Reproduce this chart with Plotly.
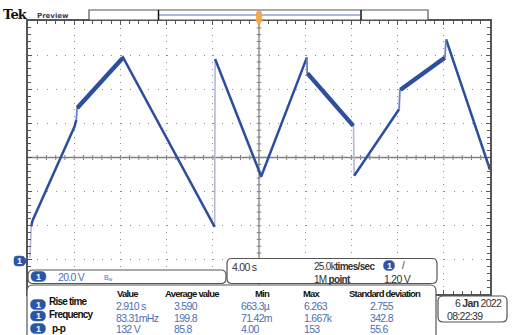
import plotly.graph_objects as go

# ---------------- data (time in s, voltage in V) ----------------
ramp_t = [0.28, 0.39, 4.02, 4.18, None, 4.24, 8.23, 16.16, None, 16.20, 20.19, 24.15,
          None, 24.17, 28.18, None, 28.24, 32.13, None, 32.22, 36.11, None, 36.20, 40.0]
ramp_v = [19.5, 23.0, 78.0, 82.0, None, 88.5, 118.7, 19.3, None, 117.7, 48.9, 118.7,
          None, 109.5, 78.5, None, 49.3, 88.3, None, 99.6, 118.7, None, 129.2, 52.8]
noisy_t = [4.28, 8.20, None, 24.20, 28.15, None, 32.25, 36.08]
noisy_v = [89.2, 118.3, None, 109.3, 78.7, None, 99.7, 118.5]
step_t = [4.18, 4.24, None, 24.15, 24.17, None, 32.13, 32.20, None, 36.11, 36.18]
step_v = [82.0, 88.5, None, 118.7, 109.5, None, 88.3, 99.6, None, 118.7, 129.2]
edge_t = [0.17, 0.28, None, 16.16, 16.20, None, 28.18, 28.24]
edge_v = [1.4, 19.5, None, 19.3, 117.7, None, 78.5, 49.3]

meas_headers = ["Value", "Average value", "Min", "Max", "Standard deviation"]
meas_names = ["Rise time", "Frequency", "p-p"]
meas_values = [
    ["2.910 s", "3.590", "663.3µ", "6.263", "2.755"],
    ["83.31mHz", "199.8", "71.42m", "1.667k", "342.8"],
    ["132 V", "85.8", "4.00", "153", "55.6"],
]
volts_div = "20.0 V"
time_div = "4.00 s"
sample_rate = "25.0k"
record_len = "1M"
trig_level = "1.20 V"
date_txt = "6 <b>Jan</b> 2022"
time_txt = "08:22:39"

# ---------------- geometry helpers ----------------
W, H = 515, 335
L, R, T, B = 28, 25, 21, 41
PW, PH = W - L - R, H - T - B
FONT = "Liberation Sans, Arial, sans-serif"


def X(px):
    return (px - L) / PW


def Y(py):
    return (H - B - py) / PH


def rrect_path(x0, y0, x1, y1, r):
    pts = [("M", [(x0 + r, y0)]), ("L", [(x1 - r, y0)]), ("Q", [(x1, y0), (x1, y0 + r)]),
           ("L", [(x1, y1 - r)]), ("Q", [(x1, y1), (x1 - r, y1)]), ("L", [(x0 + r, y1)]),
           ("Q", [(x0, y1), (x0, y1 - r)]), ("L", [(x0, y0 + r)]), ("Q", [(x0, y0), (x0 + r, y0)])]
    s = ""
    for cmd, ps in pts:
        s += cmd + " " + " ".join(f"{X(a):.5f},{Y(b):.5f}" for a, b in ps) + " "
    return s + "Z"


shapes = []
annots = []


def box(x0, y0, x1, y1, r=5, line="#555555", fill="white", lw=1.2):
    shapes.append(dict(type="path", path=rrect_path(x0, y0, x1, y1, r), xref="paper", yref="paper",
                       line=dict(color=line, width=lw), fillcolor=fill, layer="above"))


def txt(px, py, s, size=10, color="#4b70b8", anchor="left", font=FONT, ls=-0.7):
    if ls:
        s = f"<span style='letter-spacing:{ls}px'>{s}</span>"
    annots.append(dict(x=X(px), y=Y(py), xref="paper", yref="paper", text=s, showarrow=False,
                       xanchor=anchor, yanchor="middle", borderpad=0,
                       font=dict(size=size, color=color, family=font)))


BADGE = "#2b55a6"


def badge(cx, cy, w=15, h=11, label="1", size=9):
    box(cx - w / 2, cy - h / 2, cx + w / 2, cy + h / 2, r=h / 2, line=BADGE, fill=BADGE, lw=0.5)
    txt(cx, cy, "<b>" + label + "</b>", size=size, color="white", anchor="center", ls=0)


fig = go.Figure()

# waveform
fig.add_trace(go.Scatter(x=edge_t, y=edge_v, mode="lines", line=dict(color="#b3b7d8", width=1.6),
                         hoverinfo="skip", showlegend=False))
fig.add_trace(go.Scatter(x=ramp_t, y=ramp_v, mode="lines", line=dict(color="#2d4e9e", width=2.5),
                         hoverinfo="skip", showlegend=False))
fig.add_trace(go.Scatter(x=noisy_t, y=noisy_v, mode="lines", line=dict(color="#2d4e9e", width=4.4),
                         hoverinfo="skip", showlegend=False))
fig.add_trace(go.Scatter(x=step_t, y=step_v, mode="lines", line=dict(color="#6a83c6", width=1.8),
                         hoverinfo="skip", showlegend=False))

# center cross with minor ticks
cross = "#808080"
shapes.append(dict(type="line", xref="x", yref="y", x0=0, x1=40, y0=60, y1=60,
                   line=dict(color=cross, width=1.3), layer="below"))
shapes.append(dict(type="line", xref="x", yref="y", x0=20, x1=20, y0=-20, y1=140,
                   line=dict(color=cross, width=1.3), layer="below"))
for i in range(1, 50):
    t = i * 0.8
    shapes.append(dict(type="line", xref="x", yref="y", x0=t, x1=t, y0=58.5, y1=61.5,
                       line=dict(color=cross, width=1), layer="below"))
for i in range(1, 40):
    v = -20 + i * 4
    shapes.append(dict(type="line", xref="x", yref="y", x0=19.8, x1=20.2, y0=v, y1=v,
                       line=dict(color=cross, width=1), layer="below"))

# top bar
shapes.append(dict(type="rect", xref="paper", yref="paper", x0=X(89), x1=X(428), y0=Y(20), y1=Y(10),
                   line=dict(color="#555555", width=1.2), fillcolor="white"))
shapes.append(dict(type="line", xref="paper", yref="paper", x0=X(159), x1=X(360), y0=Y(15), y1=Y(15),
                   line=dict(color="#a9b7de", width=2)))
for xx in (158.5, 361):
    shapes.append(dict(type="line", xref="paper", yref="paper", x0=X(xx), x1=X(xx), y0=Y(10), y1=Y(20),
                       line=dict(color="#111111", width=1.5)))
shapes.append(dict(type="path", xref="paper", yref="paper", path=rrect_path(256.5, 11, 261.5, 21, 2.5),
                   line=dict(color="#f0a040", width=0.8), fillcolor="#f5a845"))
shapes.append(dict(type="path", xref="paper", yref="paper",
                   path=f"M {X(255.5)},{Y(20)} L {X(262.5)},{Y(20)} L {X(259)},{Y(25)} Z",
                   line=dict(color="#f0a040", width=0.5), fillcolor="#f5a845"))

# ground marker
shapes.append(dict(type="path", xref="paper", yref="paper",
                   path=rrect_path(14, 256, 24, 266, 3), line=dict(color=BADGE, width=0.5), fillcolor=BADGE))
shapes.append(dict(type="path", xref="paper", yref="paper",
                   path=f"M {X(23)},{Y(256)} L {X(27.5)},{Y(261)} L {X(23)},{Y(266)} Z",
                   line=dict(color=BADGE, width=0.5), fillcolor=BADGE))
txt(19.5, 261, "<b>1</b>", size=9, color="white", anchor="center", ls=0)

# header text
txt(2, 14, "<b>Tek</b>", size=13, color="#111111", font="DejaVu Serif, Liberation Serif, serif", ls=-0.8)
txt(36, 15.5, "<b>Preview</b>", size=7, color="#3a4060", font="DejaVu Sans, sans-serif", ls=0)

# channel box
box(28, 270, 226, 283.5)
badge(38.5, 276.5, w=15, h=10)
txt(57, 277, volts_div, size=10.5)
txt(103, 277.5, "B<sub>w</sub>", size=7, color="#4b70b8", ls=0)

# horizontal / trigger box
box(227, 258.5, 437, 283.5)
txt(231, 266.5, time_div, size=10.5, color="#333333")
txt(313, 266.5, sample_rate + "<b>times/sec</b>", size=10, color="#333333")
badge(389, 265.5, w=11, h=10)
txt(401, 265.5, "/", size=10, color="#333333", ls=0)
txt(313, 279, record_len + " <b>point</b>", size=10, color="#333333")
txt(412, 279, trig_level, size=10.5, color="#333333", anchor="right")

# measurement box
box(27, 285, 436, 345, r=6)
hdr_x = [127.5, 191.5, 262, 312, 385]
val_x = [115, 173, 240, 303, 369]
for hx, h in zip(hdr_x, meas_headers):
    txt(hx, 293.5, "<b>" + h + "</b>", size=9.5, color="#111111", anchor="center", ls=-0.8)
row_lbl_y = [301.5, 314, 328]
row_val_y = [305.5, 317.5, 329]
badge_y = [304.5, 316, 328.5]
for i, name in enumerate(meas_names):
    badge(38, badge_y[i], w=15, h=10)
    txt(48 if i < 2 else 51, row_lbl_y[i], "<b>" + name + "</b>", size=10, color="#111111", ls=-0.8)
    for vx, v in zip(val_x, meas_values[i]):
        txt(vx, row_val_y[i], v, size=10.5)

# date box
box(438, 296, 507, 322, r=5)
txt(503, 303, date_txt, size=10.5, color="#333333", anchor="right")
txt(446, 315.5, time_txt, size=10.5, color="#333333")

grid = "#8e8e8e"
fig.update_layout(
    width=W, height=H, margin=dict(l=L, r=R, t=T, b=B),
    paper_bgcolor="white", plot_bgcolor="white",
    showlegend=False, shapes=shapes, annotations=annots,
    xaxis=dict(range=[0, 40], dtick=4, tick0=0, showgrid=True, gridcolor=grid, gridwidth=1.2,
               griddash="1px,5.8px", showticklabels=False, zeroline=False,
               showline=True, mirror="ticks", linecolor="#555555", linewidth=1.5,
               ticks="inside", ticklen=4, tickcolor="#555555", tickwidth=1,
               minor=dict(dtick=0.8, ticks="inside", ticklen=3, tickcolor="#555555", tickwidth=1, showgrid=False),
               fixedrange=True),
    yaxis=dict(range=[-20, 140], dtick=20, tick0=0, showgrid=True, gridcolor=grid, gridwidth=1.2,
               griddash="1px,8.25px", showticklabels=False, zeroline=False,
               showline=True, mirror="ticks", linecolor="#555555", linewidth=1.5,
               ticks="inside", ticklen=4, tickcolor="#555555", tickwidth=1,
               minor=dict(dtick=4, ticks="inside", ticklen=3, tickcolor="#555555", tickwidth=1, showgrid=False),
               fixedrange=True),
)

fig.write_html("out.html", config={"displayModeBar": False},
               post_script="document.body.style.margin='0px';document.body.style.overflow='hidden';")
